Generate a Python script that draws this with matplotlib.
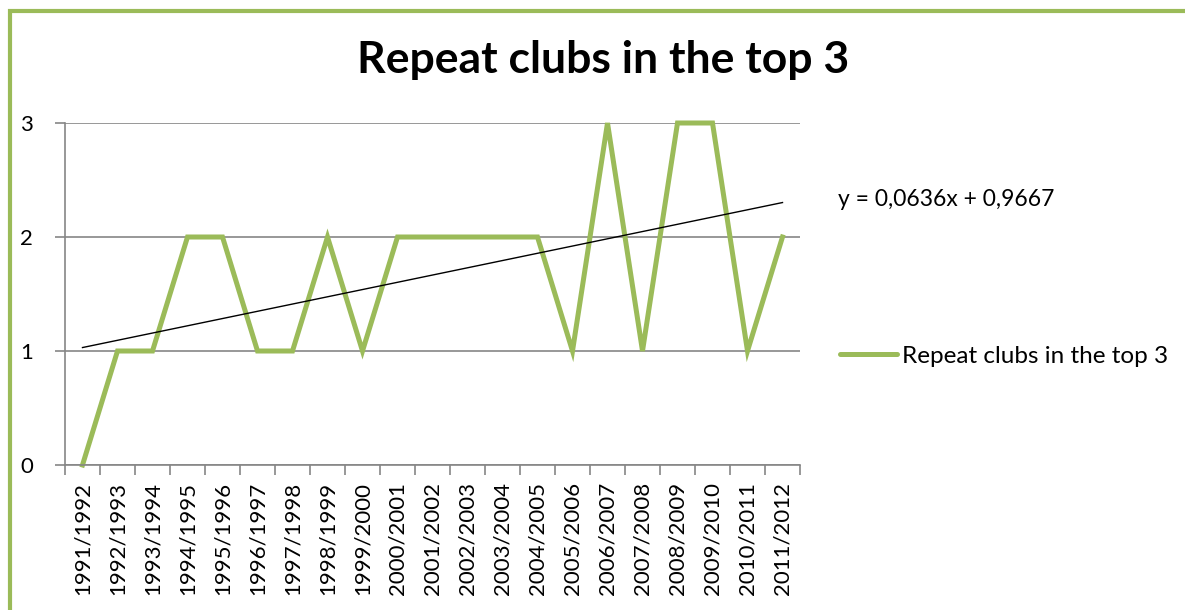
import matplotlib.pyplot as plt
from matplotlib.patches import Rectangle
import numpy as np

seasons = ['1991/1992', '1992/1993', '1993/1994', '1994/1995', '1995/1996',
           '1996/1997', '1997/1998', '1998/1999', '1999/2000', '2000/2001',
           '2001/2002', '2002/2003', '2003/2004', '2004/2005', '2005/2006',
           '2006/2007', '2007/2008', '2008/2009', '2009/2010', '2010/2011',
           '2011/2012']
repeats = [0, 1, 1, 2, 2, 1, 1, 2, 1, 2, 2, 2, 2, 2, 1, 3, 1, 3, 3, 1, 2]
slope, intercept = 0.0636, 0.9667

plt.rcParams['font.family'] = ['Lato', 'DejaVu Sans']
green = '#9BBB59'
grey = '#868686'

fig = plt.figure(figsize=(11.85, 6.1), dpi=100)
ax = fig.add_axes([65/1185, 1-465/610, 735/1185, 342/610])

x = np.arange(len(seasons))
ax.plot(x, repeats, color=green, lw=3.6, solid_joinstyle='miter',
        label='Repeat clubs in the top 3', clip_on=False)
trend = slope*(x+1) + intercept
ax.plot(x, trend, color='black', lw=1.0)

ax.set_xlim(-0.5, len(seasons)-0.5)
ax.set_ylim(0, 3)
ax.set_yticks([0, 1, 2, 3])
ax.set_yticklabels(['0', '1', '2', '3'])
ax.grid(axis='y', color=grey, lw=1.2)
ax.set_axisbelow(True)

ax.set_xticks(x)
ax.set_xticklabels(seasons, rotation=90, fontsize=16)
ax.tick_params(axis='x', length=0, pad=12)
ax.set_xticks(np.arange(-0.5, len(seasons)), minor=True)
ax.tick_params(axis='x', which='minor', length=7, color=grey, width=1.2)
ax.tick_params(axis='y', length=7, color=grey, width=1.2, labelsize=16, pad=16)

for s in ['top', 'right']:
    ax.spines[s].set_visible(False)
for s in ['left', 'bottom']:
    ax.spines[s].set_color(grey)
    ax.spines[s].set_linewidth(1.2)

fig.text(603/1185, 1-60/610, 'Repeat clubs in the top 3', ha='center', va='center',
         fontsize=32, fontweight='bold')
fig.text(838/1185, 1-200/610, 'y = 0,0636x + 0,9667', ha='left', va='center', fontsize=16.5)

leg = ax.legend(loc='center left', bbox_to_anchor=(840/1185, 1-356/610),
                bbox_transform=fig.transFigure, frameon=False, fontsize=17.5,
                handlelength=2.35, handletextpad=0.2, borderpad=0, borderaxespad=0)
for h in leg.get_lines():
    h.set_linewidth(3.6)
    h.set_solid_capstyle('round')

fig.patches.append(Rectangle((9.5/1185, -0.1), 1.2, 1.1 - 11/610,
                             transform=fig.transFigure, fill=False,
                             edgecolor=green, lw=3, zorder=10))

fig.savefig('out.png', dpi=100)
